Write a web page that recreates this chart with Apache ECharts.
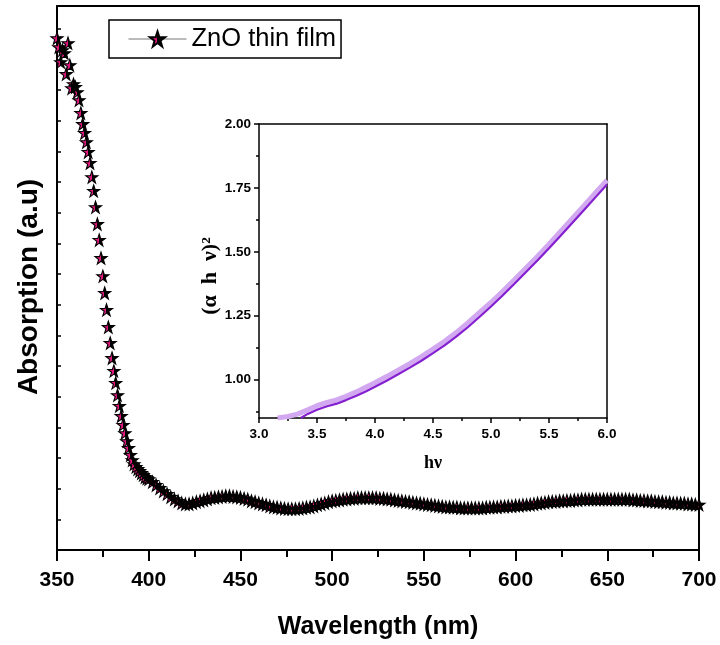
<!DOCTYPE html>
<html>
<head>
<meta charset="utf-8">
<script src="https://cdn.jsdelivr.net/npm/echarts@6/dist/echarts.min.js"></script>
<style>
  html, body { margin: 0; padding: 0; background: #fff; }
  #main { width: 720px; height: 645px; }
</style>
</head>
<body>
<div id="main"></div>
<script>
// 主图：吸收光谱，350-400 nm 每 1 nm，402-700 nm 每 2 nm
const steepStart = 350;
const steepAbs = [
  1.669, 1.640, 1.591, 1.630, 1.620, 1.552, 1.653, 1.581, 1.506, 1.519,
  1.510, 1.493, 1.467, 1.425, 1.389, 1.360, 1.330, 1.298, 1.262, 1.216,
  1.171, 1.118, 1.063, 1.011, 0.952, 0.893, 0.838, 0.783, 0.727, 0.675,
  0.626, 0.584, 0.545, 0.505, 0.470, 0.437, 0.408, 0.381, 0.355, 0.333,
  0.310, 0.293, 0.280, 0.271, 0.264, 0.258, 0.251, 0.245, 0.238, 0.234,
  0.231
];
const flatStart = 402;
const flatAbs = [
  0.222, 0.212, 0.202, 0.192, 0.183, 0.173, 0.166, 0.160, 0.153, 0.150, // 402-420
  0.150, 0.153, 0.157, 0.160, 0.163, 0.166, 0.170, 0.171, 0.173, 0.174, // 422-440
  0.176, 0.176, 0.174, 0.173, 0.171, 0.168, 0.165, 0.160, 0.157, 0.153, // 442-460
  0.150, 0.147, 0.143, 0.140, 0.139, 0.137, 0.135, 0.134, 0.134, 0.134, // 462-480
  0.135, 0.137, 0.139, 0.140, 0.143, 0.147, 0.150, 0.153, 0.157, 0.160, // 482-500
  0.161, 0.163, 0.165, 0.166, 0.168, 0.168, 0.170, 0.170, 0.170, 0.170, // 502-520
  0.170, 0.170, 0.168, 0.168, 0.166, 0.165, 0.163, 0.161, 0.160, 0.158, // 522-540
  0.157, 0.155, 0.153, 0.152, 0.150, 0.148, 0.147, 0.145, 0.143, 0.142, // 542-560
  0.140, 0.140, 0.139, 0.139, 0.137, 0.137, 0.137, 0.137, 0.137, 0.137, // 562-580
  0.137, 0.139, 0.139, 0.140, 0.140, 0.142, 0.142, 0.143, 0.143, 0.145, // 582-600
  0.145, 0.147, 0.147, 0.148, 0.150, 0.152, 0.153, 0.155, 0.157, 0.158, // 602-620
  0.158, 0.160, 0.160, 0.161, 0.161, 0.163, 0.163, 0.165, 0.165, 0.165, // 622-640
  0.165, 0.165, 0.165, 0.165, 0.165, 0.165, 0.165, 0.165, 0.165, 0.165, // 642-660
  0.165, 0.163, 0.163, 0.161, 0.161, 0.160, 0.160, 0.158, 0.157, 0.157, // 662-680
  0.155, 0.155, 0.153, 0.153, 0.152, 0.152, 0.150, 0.150, 0.148, 0.148  // 682-700
];

// 插图：(αhν)^2 - hν
const hvLight = [3.16, 3.25, 3.33, 3.42, 3.50, 3.58, 3.67, 3.75, 3.84, 3.92, 4.00,
  4.10, 4.20, 4.30, 4.40, 4.50, 4.60, 4.70, 4.80, 4.90, 5.00,
  5.10, 5.20, 5.30, 5.40, 5.50, 5.60, 5.70, 5.80, 5.90, 6.00];
const alphaLight = [0.850, 0.856, 0.865, 0.882, 0.898, 0.910, 0.921, 0.935, 0.952, 0.970, 0.988,
  1.012, 1.037, 1.063, 1.090, 1.120, 1.150, 1.184, 1.222, 1.262, 1.302,
  1.345, 1.390, 1.436, 1.482, 1.530, 1.580, 1.630, 1.680, 1.730, 1.780];
const hvDark = [3.36, 3.42, 3.50, 3.58, 3.67, 3.75, 3.84, 3.92, 4.00,
  4.10, 4.20, 4.30, 4.40, 4.50, 4.60, 4.70, 4.80, 4.90, 5.00,
  5.10, 5.20, 5.30, 5.40, 5.50, 5.60, 5.70, 5.80, 5.90, 6.00];
const alphaDark = [0.850, 0.866, 0.882, 0.895, 0.906, 0.920, 0.937, 0.954, 0.972,
  0.996, 1.021, 1.047, 1.074, 1.104, 1.134, 1.168, 1.205, 1.245, 1.286,
  1.329, 1.374, 1.420, 1.466, 1.514, 1.563, 1.613, 1.663, 1.713, 1.763];

// 刻度
const insetYLabels = [1.00, 1.25, 1.50, 1.75, 2.00];
const insetYMinor = [0.875, 1.125, 1.375, 1.625, 1.875];

const mainData = [];
steepAbs.forEach((v, i) => mainData.push([steepStart + i, v]));
flatAbs.forEach((v, i) => mainData.push([flatStart + i * 2, v]));
mainData.reverse(); // 从右往左画，黑色半边压在上面
const lightData = hvLight.map((x, i) => [x, alphaLight[i]]);
const darkData = hvDark.map((x, i) => [x, alphaDark[i]]);

const STAR = 'path://M50,2 L61.8,36.4 L97.6,36.4 L68.6,57.6 L79.4,92 L50,71 L20.6,92 L31.4,57.6 L2.4,36.4 L38.2,36.4 Z';
const SANS = 'Liberation Sans';
const SERIF = 'Liberation Serif';

const myChart = echarts.init(document.getElementById('main'));

const starFill = new echarts.graphic.LinearGradient(0, 0, 1, 0, [
  { offset: 0, color: '#e0187f' },
  { offset: 0.48, color: '#e0187f' },
  { offset: 0.48, color: '#000' },
  { offset: 1, color: '#000' }
]);

const frameAxis = (grid, pos, min, max, w) => ({
  gridIndex: grid, type: 'value', position: pos, min: min, max: max,
  axisLine: { show: true, onZero: false, lineStyle: { color: '#000', width: w } },
  axisTick: { show: false }, axisLabel: { show: false }, splitLine: { show: false }
});

const options = {
  animation: false,
  backgroundColor: '#fff',
  grid: [
    { left: 57, right: 21, top: 6, bottom: 95 },
    { left: 259, right: 113, top: 124, bottom: 227 }
  ],
  legend: {
    data: ['ZnO thin film'],
    left: 109, top: 20,
    padding: [6, 5, 6, 19],
    itemWidth: 58, itemHeight: 19,
    borderColor: '#000', borderWidth: 1.5,
    textStyle: { fontFamily: SANS, fontSize: 25.5, color: '#000' },
    lineStyle: { color: '#777', width: 1, opacity: 1 }
  },
  xAxis: [
    {
      gridIndex: 0, type: 'value', min: 350, max: 700, interval: 50,
      axisLine: { onZero: false, lineStyle: { color: '#000', width: 2 } },
      axisTick: { length: 11, lineStyle: { color: '#000', width: 2 } },
      minorTick: { show: true, splitNumber: 2, length: 7, lineStyle: { color: '#000', width: 2 } },
      axisLabel: { fontFamily: SANS, fontWeight: 'bold', fontSize: 21, color: '#000', margin: 20 },
      splitLine: { show: false },
      name: 'Wavelength (nm)', nameLocation: 'middle', nameGap: 65,
      nameTextStyle: { fontFamily: SANS, fontWeight: 'bold', fontSize: 25, color: '#000' }
    },
    frameAxis(0, 'top', 350, 700, 2),
    {
      gridIndex: 1, type: 'value', min: 3, max: 6, interval: 0.5,
      axisLine: { onZero: false, lineStyle: { color: '#000', width: 1.5 } },
      axisTick: { length: 5, lineStyle: { color: '#000', width: 1.5 } },
      minorTick: { show: true, splitNumber: 2, length: 3, lineStyle: { color: '#000', width: 1.5 } },
      axisLabel: { fontFamily: SANS, fontWeight: 'bold', fontSize: 13.5, color: '#000', margin: 9,
        formatter: (v) => v.toFixed(1) },
      splitLine: { show: false },
      name: 'hν', nameLocation: 'middle', nameGap: 36,
      nameTextStyle: { fontFamily: SERIF, fontWeight: 'bold', fontSize: 18, color: '#000' }
    },
    frameAxis(1, 'top', 3, 6, 1.5)
  ],
  yAxis: [
    {
      gridIndex: 0, type: 'value', position: 'left', min: 0, max: 1.774, interval: 0.1,
      axisLine: { onZero: false, lineStyle: { color: '#000', width: 2 } },
      axisTick: { inside: true, length: 4, lineStyle: { color: '#000', width: 1.5 } },
      axisLabel: { show: false },
      splitLine: { show: false },
      name: 'Absorption (a.u)', nameLocation: 'middle', nameGap: 14,
      nameTextStyle: { fontFamily: SANS, fontWeight: 'bold', fontSize: 28, color: '#000',
        padding: [0, 18, 0, 0] }
    },
    frameAxis(0, 'right', 0, 1.774, 2),
    {
      gridIndex: 1, type: 'value', position: 'left', min: 0.85, max: 2.0,
      axisLine: { onZero: false, lineStyle: { color: '#000', width: 1.5 } },
      axisTick: { length: 5, customValues: insetYLabels, lineStyle: { color: '#000', width: 1.5 } },
      axisLabel: { fontFamily: SANS, fontWeight: 'bold', fontSize: 13.5, color: '#000', margin: 8,
        customValues: insetYLabels, formatter: (v) => v.toFixed(2) },
      splitLine: { show: false },
      name: '(α  h  ν)²', nameLocation: 'middle', nameGap: 36,
      nameTextStyle: { fontFamily: SERIF, fontWeight: 'bold', fontSize: 22, color: '#000',
        padding: [0, 10, 0, 0] }
    },
    {
      gridIndex: 1, type: 'value', position: 'left', min: 0.85, max: 2.0,
      axisLine: { show: false },
      axisTick: { length: 3, customValues: insetYMinor, lineStyle: { color: '#000', width: 1.5 } },
      axisLabel: { show: false },
      splitLine: { show: false }
    },
    frameAxis(1, 'right', 0.85, 2.0, 1.5)
  ],
  series: [
    {
      name: 'ZnO thin film',
      type: 'line',
      xAxisIndex: 0, yAxisIndex: 0,
      data: mainData,
      symbol: STAR,
      symbolSize: 12,
      showAllSymbol: true,
      clip: false,
      lineStyle: { opacity: 0 },
      itemStyle: { color: starFill, borderColor: '#000', borderWidth: 1.1 },
      emphasis: { disabled: true }
    },
    {
      name: 'light',
      type: 'line',
      xAxisIndex: 2, yAxisIndex: 2,
      data: lightData,
      showSymbol: false,
      lineStyle: { color: '#d2a8f0', width: 5 },
      emphasis: { disabled: true }
    },
    {
      name: 'dark',
      type: 'line',
      xAxisIndex: 2, yAxisIndex: 2,
      data: darkData,
      showSymbol: false,
      lineStyle: { color: '#8420d0', width: 2.2 },
      emphasis: { disabled: true }
    }
  ]
};

myChart.setOption(options);
</script>
</body>
</html>
